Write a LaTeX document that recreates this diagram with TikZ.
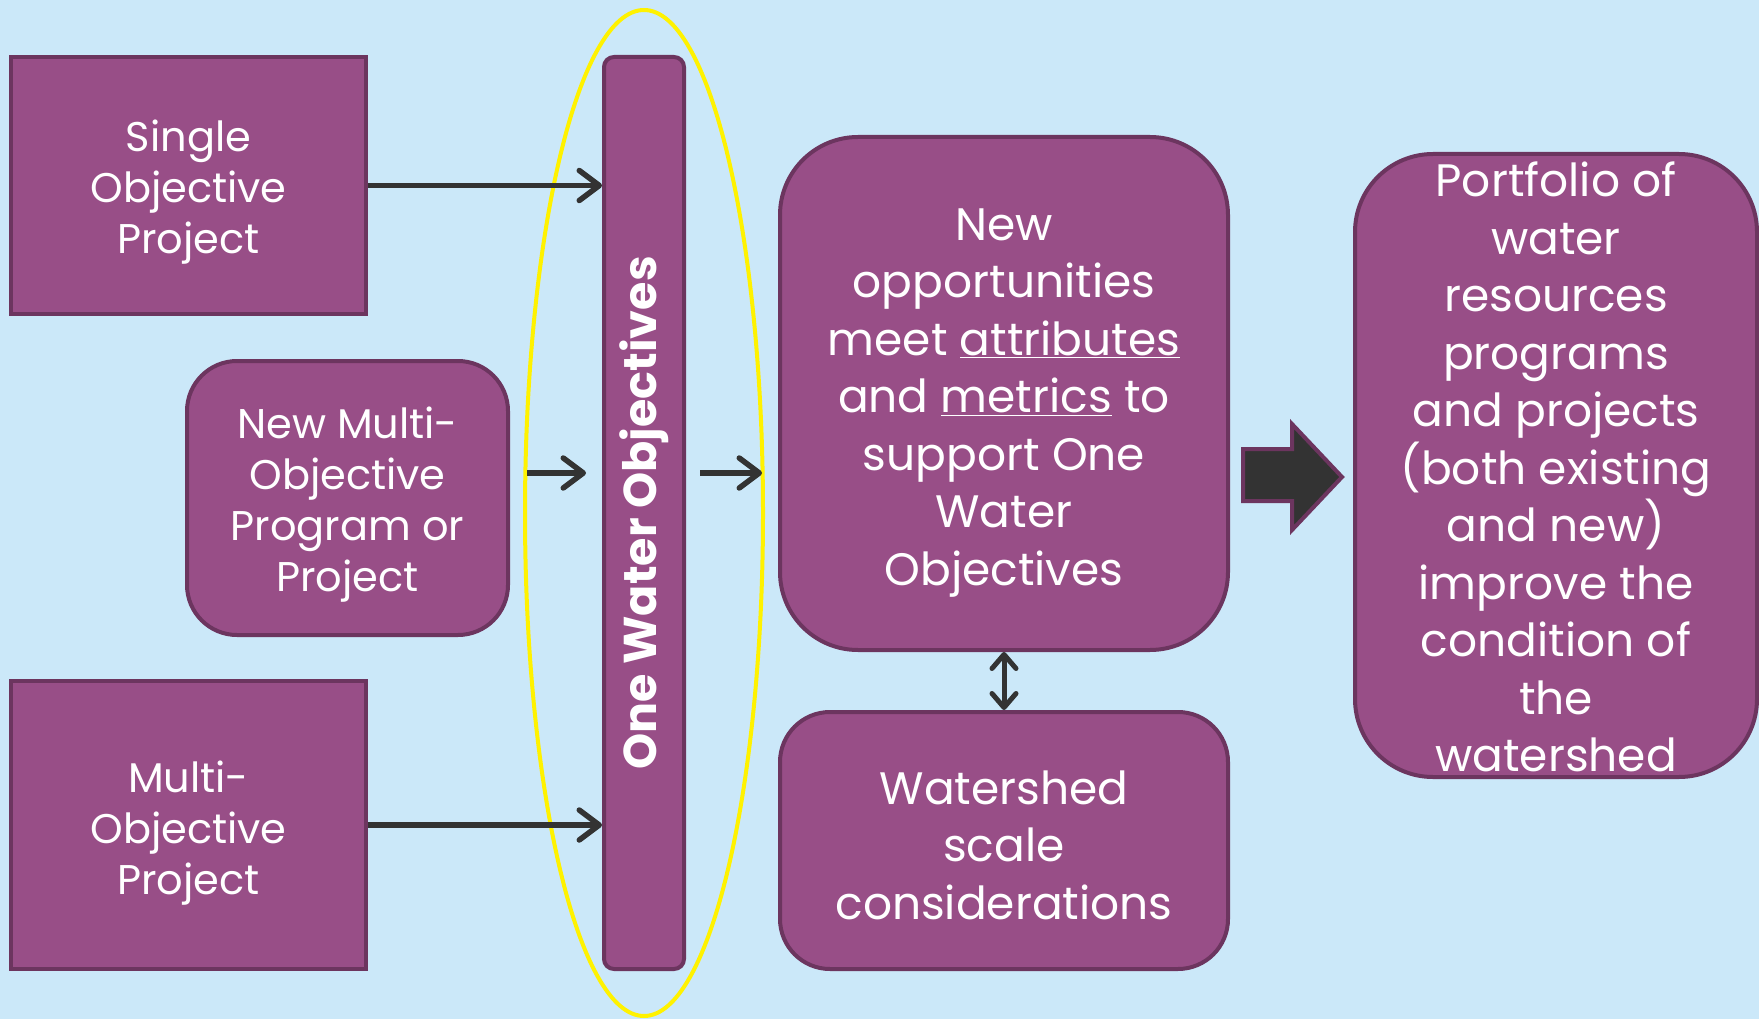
\documentclass[tikz,border=0pt]{standalone}
\usepackage{fontspec}
\setmainfont{Poppins}
\usetikzlibrary{arrows.meta}
\definecolor{bg}{HTML}{CBE8F9}
\definecolor{purp}{HTML}{984E87}
\definecolor{purpd}{HTML}{6C355F}
\definecolor{arr}{HTML}{333333}
\begin{document}
\begin{tikzpicture}[x=1pt,y=-1pt,
  box/.style={draw=purpd, fill=purp, line width=4pt, inner sep=0pt},
  txt/.style={text=white, align=center, inner sep=0pt},
  smallfont/.style={font=\fontsize{41.5}{51}\selectfont},
  bigfont/.style={font=\fontsize{45.5}{57.5}\selectfont},
  conn/.style={draw=arr, line width=5.5pt, -{Straight Barb[length=20pt,width=30pt,line width=5.5pt,round]}},
  dconn/.style={draw=arr, line width=5pt, {Straight Barb[length=14pt,width=24pt,line width=5pt,round]}-{Straight Barb[length=14pt,width=24pt,line width=5pt,round]}}]
\fill[bg] (0,0) rectangle (1759,1019);
\useasboundingbox (0,0) rectangle (1759,1019);
% left boxes
\node[box, minimum width=355pt, minimum height=257pt] (single) at (188.5,185.5) {};
\node[txt, smallfont] (singlet) at (188.5,192) {Single\\Objective\\Project};
\node[box, rounded corners=50pt, minimum width=321pt, minimum height=274pt] (newmulti) at (347.5,498) {};
\node[txt, smallfont] (newmultit) at (347.5,505) {New Multi-\\Objective\\Program or\\Project};
\node[box, minimum width=355pt, minimum height=288pt] (multi) at (188.5,825) {};
\node[txt, smallfont] (multit) at (188.5,833) {Multi-\\Objective\\Project};
% bar
\node[box, rounded corners=10pt, minimum width=80pt, minimum height=912pt] (bar) at (644,513) {};
\node[text=white, font=\bfseries\fontsize{46}{50}\selectfont, rotate=90] (bartext) at (bar.center) {One Water Objectives};
% ellipse
\draw[yellow, line width=4pt] (644,513) ellipse [x radius=119pt, y radius=503pt];
% right boxes
\node[box, rounded corners=78pt, minimum width=448pt, minimum height=513pt] (opp) at (1004,393.5) {};
\node[txt, bigfont] (oppt) at (1004,403)
  {New\\opportunities\\meet \underline{attributes}\\and \underline{metrics} to\\support One\\Water\\Objectives};
\node[box, rounded corners=50pt, minimum width=448pt, minimum height=257pt] (ws) at (1004,840.5) {};
\node[txt, bigfont] (wst) at (1004,845) {Watershed\\scale\\considerations};
\node[box, rounded corners=78pt, minimum width=402pt, minimum height=623pt] (port) at (1556,465.5) {};
\node[txt, bigfont] (portt) at (1556,467) {Portfolio of\\water\\resources\\programs\\and projects\\(both existing\\and new)\\improve the\\condition of\\the\\watershed};
% connectors
\draw[conn] (single.east) -- (single.east -| bar.west);
\draw[conn] (multi.east) -- (multi.east -| bar.west);
\coordinate (a1) at (527,473);
\coordinate (a2) at (586,473);
\coordinate (b1) at (700,473);
\coordinate (b2) at (762,473);
\draw[conn] (a1) -- (a2);
\draw[conn] (b1) -- (b2);
\draw[dconn] (ws.north) -- (opp.south);
% block arrow
\draw[fill=arr, draw=purpd, line width=4pt, line join=miter]
  (1243,449) -- (1292,449) -- (1292,424) -- (1342,477) -- (1292,530) -- (1292,501) -- (1243,501) -- cycle;
\end{tikzpicture}
\end{document}
